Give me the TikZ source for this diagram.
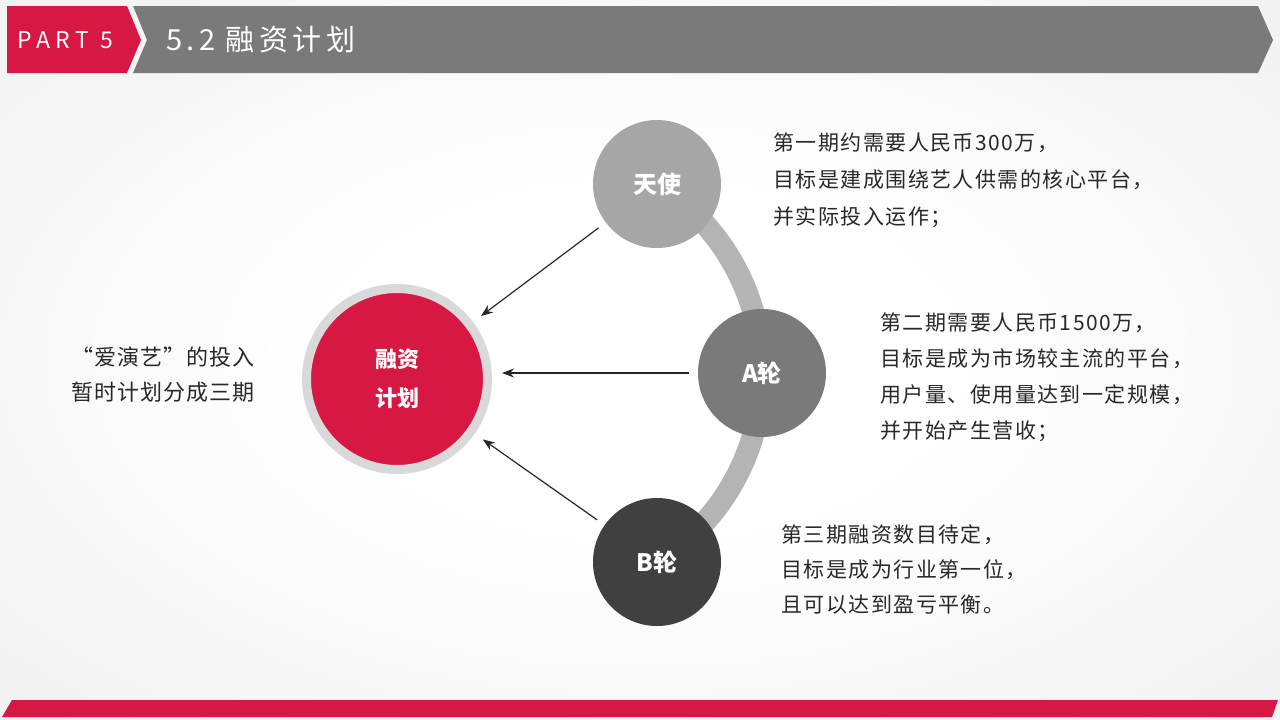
\documentclass[tikz,border=0pt]{standalone}
\usepackage{fontspec}
\setmainfont{Noto Sans CJK SC}
\usetikzlibrary{arrows.meta}

\definecolor{mainred}{RGB}{214,24,66}
\definecolor{headgray}{RGB}{122,122,122}
\definecolor{ringgray}{RGB}{217,217,217}
\definecolor{arcgray}{RGB}{180,180,180}
\definecolor{angelgray}{RGB}{166,166,166}
\definecolor{roundagray}{RGB}{122,122,122}
\definecolor{roundbgray}{RGB}{64,64,64}
\definecolor{textgray}{RGB}{40,40,40}
\definecolor{bgedge}{RGB}{226,226,226}
\pgfdeclareradialshading{bgshade}{\pgfpoint{0bp}{0bp}}{color(0bp)=(white); color(12bp)=(white); color(62bp)=(bgedge); color(75bp)=(bgedge)}

\tikzset{
    round/.style={circle, minimum size=128pt, inner sep=0pt, text=white, align=center,
        font=\fontsize{24}{39}\selectfont\bfseries},
    note/.style={anchor=west, align=left, inner sep=0pt, text=textgray,
        font=\fontsize{21}{37}\selectfont\addfontfeature{LetterSpace=7}},
    arrow/.style={-{Stealth[length=12pt, width=9pt]}, line width=1.2pt, black!85,
        shorten <=9pt, shorten >=10pt}
}

\begin{document}
\begin{tikzpicture}[x=1pt, y=1pt]
            \useasboundingbox (0,0) rectangle (1280,-720);
            \shade[shading=bgshade] (0,0) rectangle (1280,-720);
            % header
            \fill[mainred] (7,-6) -- (127,-6) -- (141,-40) -- (127,-73) -- (7,-73) -- cycle;
            \fill[headgray] (133,-6) -- (1258,-6) -- (1273,-40) -- (1258,-73) -- (133,-73) -- (147,-40) -- cycle;
            \node[anchor=west, inner sep=0pt, text=white,
                font=\fontsize{23}{23}\selectfont\addfontfeature{LetterSpace=25}] (9) at (17,-40) {PART 5};
            \node[anchor=west, inner sep=0pt, text=white,
                font=\fontsize{29}{29}\selectfont\addfontfeature{LetterSpace=15}] (10) at (166,-40) {5.2 融资计划};
            \fill[mainred] (12,-700) -- (1278,-700) -- (1272,-717) -- (2,-717) -- cycle;
            % arc behind the rounds
            \draw[arcgray, line width=22pt] (657,-184) arc[start angle=58, end angle=-58, radius=223];
            \node[round, fill=mainred, draw=ringgray, line width=9pt, minimum size=181pt,
                font=\fontsize{22}{39}\selectfont\bfseries] (1) at (397,-379) {融资\\计划};
            \node[round, fill=angelgray] (2) at (657,-184) {天使};
            \node[round, fill=roundagray] (3) at (762,-373) {A轮};
            \node[round, fill=roundbgray] (4) at (657,-562) {B轮};
            \path[arrow] (2) edge (1) (3) edge (1.east |- 3) (4) edge (1);
            \node[note] (5) at (773,-180) {第一期约需要人民币300万，\\目标是建成围绕艺人供需的核心平台，\\并实际投入运作；};
            \node[note, font=\fontsize{21}{36}\selectfont\addfontfeature{LetterSpace=7}] (6) at (880,-377) {第二期需要人民币1500万，\\目标是成为市场较主流的平台，\\用户量、使用量达到一定规模，\\并开始产生营收；};
            \node[note, font=\fontsize{21}{35}\selectfont\addfontfeature{LetterSpace=7}] (7) at (781,-570) {第三期融资数目待定，\\目标是成为行业第一位，\\且可以达到盈亏平衡。};
            \node[note, anchor=center, align=center,
                font=\fontsize{22}{35}\selectfont\addfontfeature{LetterSpace=5}] (8) at (163,-375) {“爱演艺”的投入\\暂时计划分成三期};
        \end{tikzpicture}
\end{document}
